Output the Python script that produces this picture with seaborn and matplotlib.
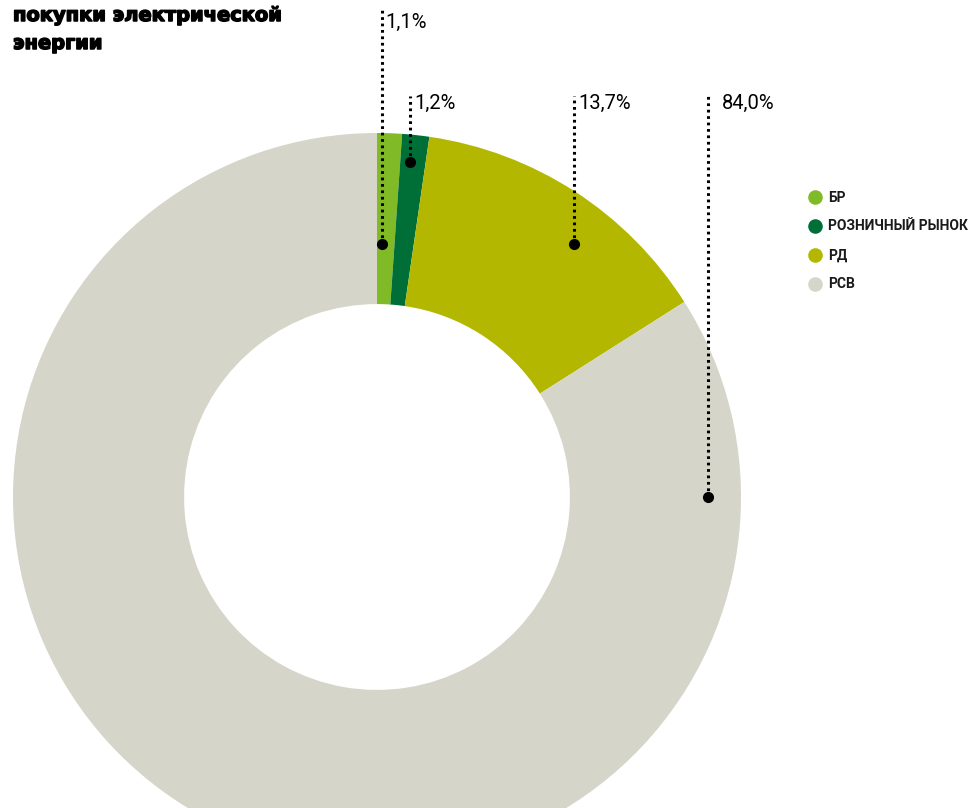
import numpy as np
import matplotlib
matplotlib.use("Agg")
import matplotlib.pyplot as plt
import matplotlib.patheffects as pe
import seaborn as sns
from matplotlib.lines import Line2D

# Data
segments = ["БР", "РОЗНИЧНЫЙ РЫНОК", "РД", "РСВ"]
shares = [1.1, 1.2, 13.7, 84.0]
share_labels = ["1,1%", "1,2%", "13,7%", "84,0%"]
colors = ["#80BA27", "#006F37", "#B4B700", "#D5D5CA"]
title_lines = ["покупки электрической", "энергии"]

sns.set_theme(style="white")
plt.rcParams["font.family"] = ["Roboto", "DejaVu Sans"]

W, H = 977, 808
fig = plt.figure(figsize=(W / 100, H / 100), dpi=100)
fig.patch.set_facecolor("white")

# donut centre (377, 497) px, outer radius 364 px
cx, cy, R = 377, 497, 364
ax = fig.add_axes([(cx - R) / W, (H - cy - R) / H, 2 * R / W, 2 * R / H])
ax.pie(shares, colors=colors, startangle=90, counterclock=False, radius=1,
       wedgeprops=dict(width=0.47, edgecolor="none", linewidth=0))
ax.set_xlim(-1, 1)
ax.set_ylim(-1, 1)
ax.set_aspect("equal")
ax.axis("off")

# callouts: dot position / line top / label centre y / label offset, in pixels
callouts = [((382, 244), 10, 22, 3),
            ((410, 162), 96, 103, 4),
            ((574, 244), 96, 103, 4),
            ((708, 497), 96, 103, 14)]

def to_data(px, py):
    return (px - cx) / R, (cy - py) / R

for lab, ((px, py), top, ty, dx) in zip(share_labels, callouts):
    x0, y0 = to_data(px, py)
    _, y1 = to_data(px, top)
    ax.plot([x0, x0], [y0, y1], color="black", lw=2.2,
            linestyle=(0, (0.9, 1.2)), clip_on=False, solid_capstyle="butt")
    ax.plot(x0, y0, "o", color="black", ms=7, clip_on=False)
    tx, tyd = to_data(px + dx, ty)
    ax.text(tx, tyd, lab, fontsize=14.5, color="black",
            ha="left", va="center", clip_on=False)

# title (partially cut at the top)
for i, line in enumerate(title_lines):
    fig.text(13 / W, 1 - (21 + 28 * i) / H, line, fontsize=14, fontweight="bold",
             family=["DejaVu Sans"], color="black", ha="left", va="baseline",
             path_effects=[pe.withStroke(linewidth=1.1, foreground="black")])

# legend
handles = [Line2D([0], [0], marker="o", color="none", markerfacecolor=c,
                  markeredgecolor="none", markersize=10.5) for c in colors]
leg = fig.legend(handles, segments, loc="upper left",
                 bbox_to_anchor=(796 / W, 1 - 178 / H), frameon=False,
                 handlelength=1.0, handletextpad=0.4, labelspacing=1.08,
                 prop=dict(size=10, weight="bold"))
for t in leg.get_texts():
    t.set_color("#1a1a1a")

fig.savefig("out.png", dpi=100, facecolor="white")
